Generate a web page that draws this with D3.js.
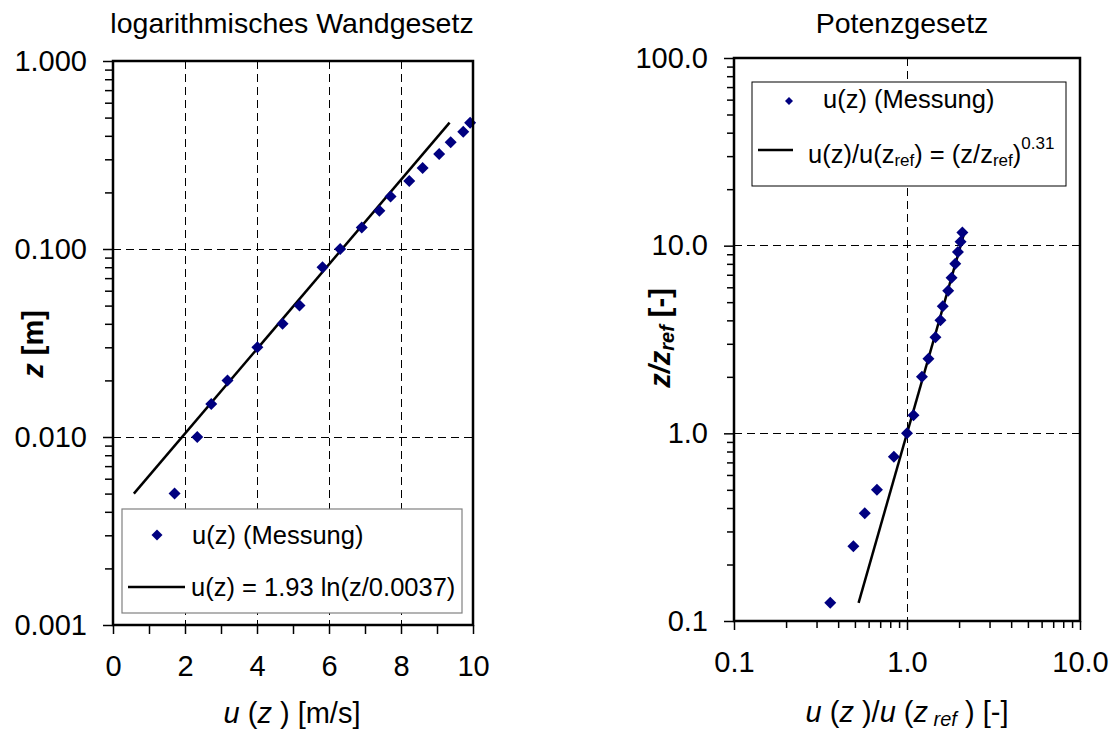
<!DOCTYPE html>
<html>
<head>
<meta charset="utf-8">
<script src="https://cdn.jsdelivr.net/npm/d3@7"></script>
<style>
  html, body { margin: 0; padding: 0; background: #fff; }
  svg { display: block; font-family: "Liberation Sans", Arial, sans-serif; }
</style>
</head>
<body>
<svg id="chart" width="1116" height="742"></svg>
<script>
// ---------- data ----------
// left chart: measured wind profile
const zMeas = [0.005, 0.01, 0.015, 0.02, 0.03, 0.04, 0.05, 0.08, 0.10, 0.13, 0.16, 0.19, 0.23, 0.27, 0.32, 0.37, 0.42, 0.47];
const uMeas = [1.71, 2.34, 2.73, 3.18, 4.01, 4.71, 5.18, 5.82, 6.31, 6.91, 7.40, 7.71, 8.23, 8.60, 9.06, 9.38, 9.73, 9.92];
// left chart: fitted log law line (end points)
const zFit = [0.005, 0.47];
const uFit = [0.58, 9.35];
// right chart: normalised profile
const ratioZ = [0.125, 0.25, 0.375, 0.5, 0.75, 1.0, 1.25, 2.0, 2.5, 3.25, 4.0, 4.75, 5.75, 6.75, 8.0, 9.25, 10.5, 11.75];
const ratioU = [0.36, 0.49, 0.57, 0.67, 0.84, 1.00, 1.09, 1.22, 1.33, 1.46, 1.56, 1.61, 1.73, 1.81, 1.90, 1.97, 2.04, 2.09];
// right chart: power law line
const ratioFitZ = [0.125, 11.75];
const ratioFitU = [0.525, 2.146];
// ticks
const leftXTicks = [0, 2, 4, 6, 8, 10];
const leftXMinor = [1, 3, 5, 7, 9];
const leftYTicks = [0.001, 0.01, 0.1, 1];
const leftYLabels = ["0.001", "0.010", "0.100", "1.000"];
const rightXTicks = [0.1, 1, 10];
const rightXLabels = ["0.1", "1.0", "10.0"];
const rightYTicks = [0.1, 1, 10, 100];
const rightYLabels = ["0.1", "1.0", "10.0", "100.0"];
const titles = ["logarithmisches Wandgesetz", "Potenzgesetz"];
const legendLabels = ["u(z) (Messung)", "u(z) = 1.93 ln(z/0.0037)"];

// ---------- setup ----------
const svg = d3.select("#chart");
const NAVY = "#000080";
const FONT = 29;

function minorLog(lo, hi) {
  const out = [];
  for (let e = Math.round(Math.log10(lo)); e < Math.round(Math.log10(hi)); e++) {
    for (let k = 2; k <= 9; k++) out.push(k * Math.pow(10, e));
  }
  return out;
}
function diamondPath(w) {
  const h = w / 2;
  return `M0,${-h}L${h},0L0,${h}L${-h},0Z`;
}
function styleAxis(g, fs) {
  g.select(".domain").remove();
  g.selectAll("line").attr("stroke", "#000").attr("stroke-width", 1.5);
  g.selectAll("text").attr("font-size", fs).attr("fill", "#000")
    .attr("font-family", '"Liberation Sans", Arial, sans-serif');
}
function gridStyle(sel) {
  sel.attr("stroke", "#000").attr("stroke-width", 1).attr("stroke-dasharray", "8,5")
    .attr("shape-rendering", "crispEdges");
}

// ---------- LEFT CHART ----------
const L = { x0: 113, x1: 473, y0: 61, y1: 625 };
const xL = d3.scaleLinear().domain([0, 10]).range([L.x0, L.x1]);
const yL = d3.scaleLog().domain([0.001, 1]).range([L.y1, L.y0]);

const gL = svg.append("g");
// gridlines
gL.selectAll("line.vg").data([2, 4, 6, 8]).join("line")
  .attr("x1", d => xL(d)).attr("x2", d => xL(d)).attr("y1", L.y0).attr("y2", L.y1)
  .call(gridStyle);
gL.selectAll("line.hg").data([0.01, 0.1]).join("line")
  .attr("x1", L.x0).attr("x2", L.x1).attr("y1", d => yL(d)).attr("y2", d => yL(d))
  .call(gridStyle);

// axes
gL.append("g").attr("transform", `translate(0,${L.y1})`)
  .call(d3.axisBottom(xL).tickValues(leftXTicks).tickSize(9).tickPadding(21).tickFormat(d3.format("d")))
  .call(g => styleAxis(g, FONT));
gL.append("g").attr("transform", `translate(0,${L.y1})`)
  .call(d3.axisBottom(xL).tickValues(leftXMinor).tickSize(9).tickFormat(""))
  .call(g => styleAxis(g, FONT));
gL.append("g").attr("transform", `translate(${L.x0},0)`)
  .call(d3.axisLeft(yL).tickValues(leftYTicks).tickSize(10).tickPadding(16)
    .tickFormat((d, i) => leftYLabels[i]))
  .call(g => styleAxis(g, FONT));
gL.append("g").attr("transform", `translate(${L.x0},0)`)
  .call(d3.axisLeft(yL).tickValues(minorLog(0.001, 1)).tickSize(8).tickFormat(""))
  .call(g => styleAxis(g, FONT));

// fit line
const lineL = d3.line().x(d => xL(d[0])).y(d => yL(d[1]));
gL.append("path").datum(uFit.map((u, i) => [u, zFit[i]]))
  .attr("d", lineL).attr("fill", "none").attr("stroke", "#000").attr("stroke-width", 2.5);
// markers
gL.selectAll("path.m").data(uMeas.map((u, i) => [u, zMeas[i]])).join("path")
  .attr("d", diamondPath(12)).attr("fill", NAVY)
  .attr("transform", d => `translate(${xL(d[0])},${yL(d[1])})`);

// frame
gL.append("rect").attr("x", L.x0).attr("y", L.y0).attr("width", L.x1 - L.x0).attr("height", L.y1 - L.y0)
  .attr("fill", "none").attr("stroke", "#000").attr("stroke-width", 2.5);

// legend
const lg = gL.append("g");
lg.append("rect").attr("x", 122).attr("y", 509).attr("width", 340).attr("height", 104)
  .attr("fill", "#fff").attr("stroke", "#808080").attr("stroke-width", 1.2);
lg.append("path").attr("d", diamondPath(11)).attr("fill", NAVY).attr("transform", "translate(157,535)");
lg.append("text").attr("x", 192).attr("y", 544).attr("font-size", 25.5).text(legendLabels[0]);
lg.append("line").attr("x1", 128).attr("x2", 185).attr("y1", 587).attr("y2", 587)
  .attr("stroke", "#000").attr("stroke-width", 2.5);
lg.append("text").attr("x", 191).attr("y", 596).attr("font-size", 25.5).text(legendLabels[1]);

// titles
gL.append("text").attr("x", 292).attr("y", 33).attr("text-anchor", "middle").attr("font-size", 28.5).text(titles[0]);
const xtL = gL.append("text").attr("x", 292).attr("y", 723).attr("text-anchor", "middle").attr("font-size", FONT);
xtL.append("tspan").attr("font-style", "italic").text("u");
xtL.append("tspan").text(" (");
xtL.append("tspan").attr("font-style", "italic").text("z");
xtL.append("tspan").text(" ) [m/s]");
const ytL = gL.append("text").attr("transform", "translate(43,344) rotate(-90)")
  .attr("text-anchor", "middle").attr("font-size", FONT).attr("font-weight", "bold");
ytL.append("tspan").attr("font-style", "italic").text("z");
ytL.append("tspan").text(" [m]");

// ---------- RIGHT CHART ----------
const R = { x0: 734, x1: 1080, y0: 58, y1: 621 };
const xR = d3.scaleLog().domain([0.1, 10]).range([R.x0, R.x1]);
const yR = d3.scaleLog().domain([0.1, 100]).range([R.y1, R.y0]);

const gR = svg.append("g");
gR.append("line").attr("x1", xR(1)).attr("x2", xR(1)).attr("y1", R.y0).attr("y2", R.y1)
  .call(gridStyle);
gR.selectAll("line.hg").data([1, 10]).join("line")
  .attr("x1", R.x0).attr("x2", R.x1).attr("y1", d => yR(d)).attr("y2", d => yR(d))
  .call(gridStyle);

gR.append("g").attr("transform", `translate(0,${R.y1})`)
  .call(d3.axisBottom(xR).tickValues(rightXTicks).tickSize(9).tickPadding(21)
    .tickFormat((d, i) => rightXLabels[i]))
  .call(g => styleAxis(g, FONT));
gR.append("g").attr("transform", `translate(0,${R.y1})`)
  .call(d3.axisBottom(xR).tickValues(minorLog(0.1, 10)).tickSize(7).tickFormat(""))
  .call(g => styleAxis(g, FONT));
gR.append("g").attr("transform", `translate(${R.x0},0)`)
  .call(d3.axisLeft(yR).tickValues(rightYTicks).tickSize(10).tickPadding(16)
    .tickFormat((d, i) => rightYLabels[i]))
  .call(g => styleAxis(g, FONT));
gR.append("g").attr("transform", `translate(${R.x0},0)`)
  .call(d3.axisLeft(yR).tickValues(minorLog(0.1, 100)).tickSize(7).tickFormat(""))
  .call(g => styleAxis(g, FONT));

const lineR = d3.line().x(d => xR(d[0])).y(d => yR(d[1]));
gR.append("path").datum(ratioFitU.map((u, i) => [u, ratioFitZ[i]]))
  .attr("d", lineR).attr("fill", "none").attr("stroke", "#000").attr("stroke-width", 2.5);
gR.selectAll("path.m").data(ratioU.map((u, i) => [u, ratioZ[i]])).join("path")
  .attr("d", diamondPath(12)).attr("fill", NAVY)
  .attr("transform", d => `translate(${xR(d[0])},${yR(d[1])})`);

gR.append("rect").attr("x", R.x0).attr("y", R.y0).attr("width", R.x1 - R.x0).attr("height", R.y1 - R.y0)
  .attr("fill", "none").attr("stroke", "#000").attr("stroke-width", 2.5);

// legend
const rg = gR.append("g");
rg.append("rect").attr("x", 752).attr("y", 82).attr("width", 314).attr("height", 104)
  .attr("fill", "#fff").attr("stroke", "#000").attr("stroke-width", 1);
rg.append("path").attr("d", diamondPath(8)).attr("fill", NAVY).attr("transform", "translate(789,101)");
rg.append("text").attr("x", 823).attr("y", 108).attr("font-size", 25.5).text(legendLabels[0]);
rg.append("line").attr("x1", 758).attr("x2", 793).attr("y1", 150).attr("y2", 150)
  .attr("stroke", "#000").attr("stroke-width", 2.5);
const lt = rg.append("text").attr("x", 808).attr("y", 163).attr("font-size", 25.5);
lt.append("tspan").text("u(z)/u(z");
lt.append("tspan").attr("font-size", 17).attr("dy", 3).text("ref");
lt.append("tspan").attr("dy", -3).text(") = (z/z");
lt.append("tspan").attr("font-size", 17).attr("dy", 3).text("ref");
lt.append("tspan").attr("dy", -3).text(")");
lt.append("tspan").attr("font-size", 17).attr("dy", -14).text("0.31");

// titles
gR.append("text").attr("x", 902).attr("y", 33).attr("text-anchor", "middle").attr("font-size", 28.5).text(titles[1]);
const xtR = gR.append("text").attr("x", 907).attr("y", 722).attr("text-anchor", "middle").attr("font-size", FONT);
xtR.append("tspan").attr("font-style", "italic").text("u");
xtR.append("tspan").text(" (");
xtR.append("tspan").attr("font-style", "italic").text("z");
xtR.append("tspan").text(" )/");
xtR.append("tspan").attr("font-style", "italic").text("u");
xtR.append("tspan").text(" (");
xtR.append("tspan").attr("font-style", "italic").text("z");
xtR.append("tspan").attr("font-style", "italic").attr("font-size", 20).attr("dy", 4).text(" ref");
xtR.append("tspan").attr("dy", -4).text(" ) [-]");
const ytR = gR.append("text").attr("transform", "translate(670,338) rotate(-90)")
  .attr("text-anchor", "middle").attr("font-size", FONT).attr("font-weight", "bold");
ytR.append("tspan").attr("font-style", "italic").text("z/z");
ytR.append("tspan").attr("font-style", "italic").attr("font-size", 20).attr("dy", 4).text("ref");
ytR.append("tspan").attr("dy", -4).text(" [-]");
</script>
</body>
</html>
